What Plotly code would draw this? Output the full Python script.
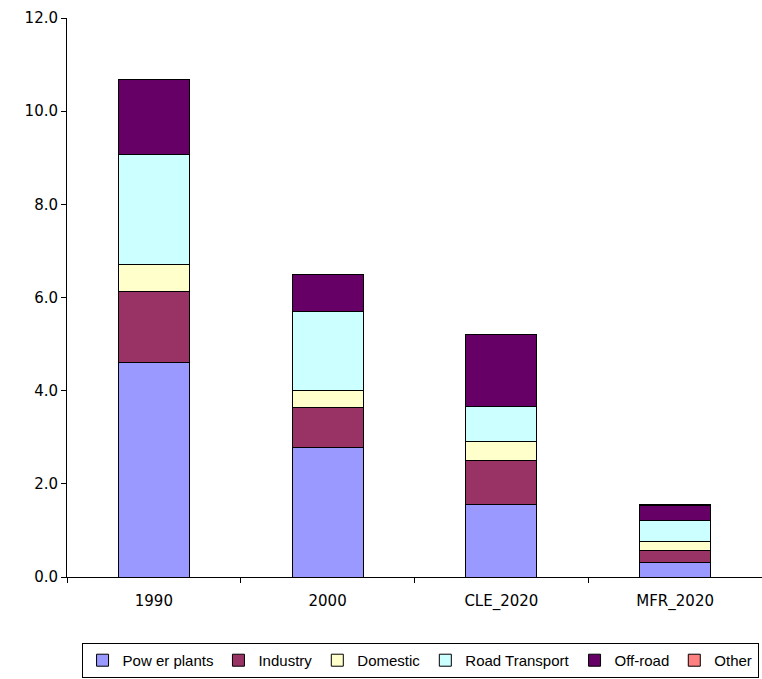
import plotly.graph_objects as go

categories = ["1990", "2000", "CLE_2020", "MFR_2020"]
power_plants = [4.60, 2.77, 1.55, 0.32]
industry = [1.53, 0.86, 0.96, 0.24]
domestic = [0.57, 0.38, 0.39, 0.21]
road_transport = [2.38, 1.70, 0.77, 0.45]
off_road = [1.59, 0.79, 1.53, 0.31]
other = [0.0, 0.0, 0.0, 0.02]

series = [
    ("Pow er plants", power_plants, "#9999FF"),
    ("Industry", industry, "#993366"),
    ("Domestic", domestic, "#FFFFCC"),
    ("Road Transport", road_transport, "#CCFFFF"),
    ("Off-road", off_road, "#660066"),
    ("Other", other, "#FF8080"),
]

fig = go.Figure()
for name, vals, color in series:
    fig.add_trace(go.Bar(
        name=name, x=categories, y=vals,
        marker=dict(color=color, line=dict(color="black", width=1)),
        width=0.41,
    ))

fig.update_layout(
    barmode="stack",
    width=762, height=679,
    margin=dict(l=67, r=0, t=18, b=102, autoexpand=False),
    plot_bgcolor="white", paper_bgcolor="white",
    font=dict(family="DejaVu Sans", size=15, color="black"),
    showlegend=True,
    legend=dict(
        orientation="h", traceorder="normal",
        x=0.508, xanchor="center", y=-0.118, yanchor="top",
        bordercolor="black", borderwidth=1,
        font=dict(family="Liberation Sans", size=15), itemwidth=30,
        entrywidth=0, tracegroupgap=0,
    ),
    xaxis=dict(
        showline=True, linecolor="black", linewidth=1,
        ticks="outside", tickson="boundaries", ticklen=5, tickcolor="black",
        showgrid=False, ticklabelstandoff=10,
    ),
    yaxis=dict(
        range=[0, 12], dtick=2, tickformat=".1f",
        showline=True, linecolor="black", linewidth=1,
        ticks="outside", ticklen=5, tickcolor="black",
        showgrid=False, zeroline=False,
    ),
)

fig.write_html("out.html")
